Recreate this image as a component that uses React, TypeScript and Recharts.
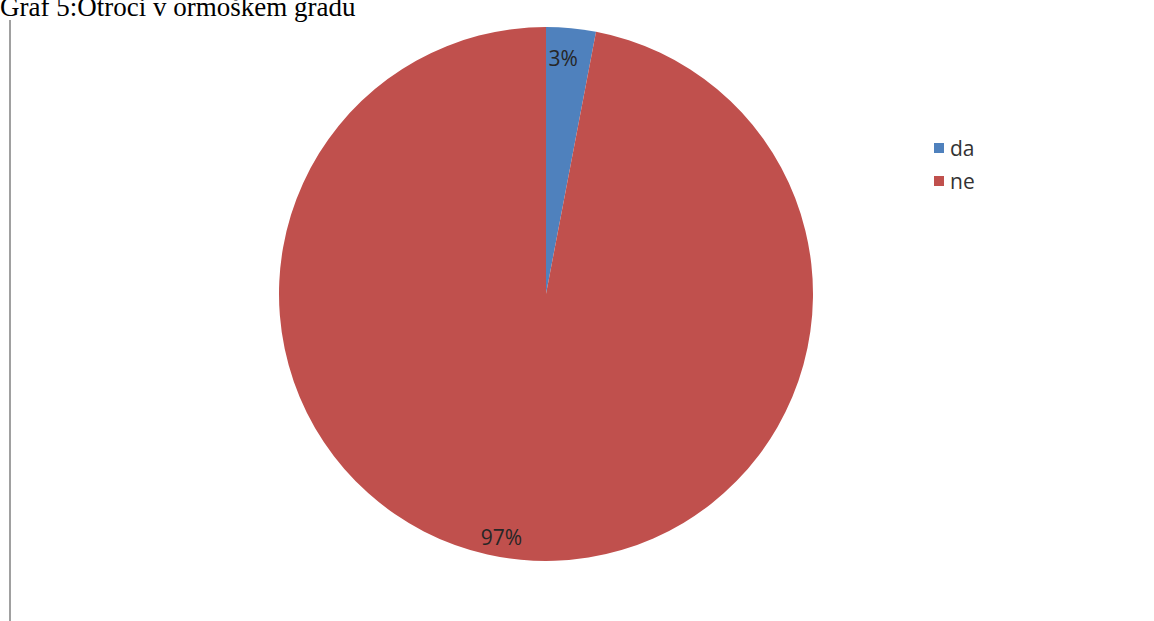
import React from 'react';
import { PieChart, Pie, Cell, Legend } from 'recharts';

const categories = ['da', 'ne'];
const values = [3, 97];
const colors = ['#4F81BD', '#C0504D'];
const titleText = 'Graf 5:Otroci v ormoškem gradu';

const data = categories.map((name, i) => ({ name, value: values[i] }));

const RAD = Math.PI / 180;
const labelTweak: Record<string, { r: number; da: number }> = {
  da: { r: 0.885, da: 1.2 },
  ne: { r: 0.925, da: -5.0 },
};

const renderLabel = (props: any) => {
  const { cx, cy, outerRadius, midAngle, percent, name } = props;
  const t = labelTweak[name] || { r: 0.85, da: 0 };
  const ang = (midAngle + t.da) * RAD;
  const x = cx + outerRadius * t.r * Math.cos(ang);
  const y = cy - outerRadius * t.r * Math.sin(ang);
  return (
    <text
      x={x}
      y={y}
      textAnchor="middle"
      dominantBaseline="central"
      fill="#262626"
      fontFamily="'Open Sans', sans-serif"
      fontSize={21}
    >
      {`${Math.round(percent * 100)}%`}
    </text>
  );
};

const renderLegend = (props: any) => {
  const { payload } = props;
  return (
    <div>
      {payload.map((entry: any) => (
        <div
          key={entry.value}
          style={{ display: 'flex', alignItems: 'center', height: 33 }}
        >
          <span
            style={{
              display: 'inline-block',
              width: 10,
              height: 10,
              background: entry.color,
              marginRight: 6,
            }}
          />
          <span
            style={{
              fontFamily: "'Open Sans', sans-serif",
              fontSize: 21,
              color: '#333',
            }}
          >
            {entry.value}
          </span>
        </div>
      ))}
    </div>
  );
};

export default function App() {
  return (
    <div
      style={{
        position: 'absolute',
        left: 0,
        top: 0,
        width: 1154,
        height: 621,
        background: '#fff',
        overflow: 'hidden',
      }}
    >
      <div
        style={{
          position: 'absolute',
          left: 0,
          top: -6,
          fontFamily: "'Liberation Serif', 'Times New Roman', serif",
          fontSize: 27,
          lineHeight: '27px',
          color: '#000',
          whiteSpace: 'nowrap',
        }}
      >
        {titleText}
      </div>
      <div
        style={{
          position: 'absolute',
          left: 9,
          top: 20,
          width: 2,
          height: 601,
          background: '#a0a0a0',
        }}
      />
      <div style={{ position: 'absolute', left: 0, top: 0 }}>
        <PieChart width={1154} height={621}>
          <Pie
            data={data}
            dataKey="value"
            nameKey="name"
            cx={541}
            cy={289}
            outerRadius={267}
            startAngle={90}
            endAngle={-270}
            stroke="none"
            label={renderLabel}
            labelLine={false}
            isAnimationActive={false}
          >
            {data.map((d, i) => (
              <Cell key={d.name} fill={colors[i]} />
            ))}
          </Pie>
          <Legend
            layout="vertical"
            content={renderLegend}
            wrapperStyle={{ position: 'absolute', left: 934, top: 131, width: 80 }}
          />
        </PieChart>
      </div>
    </div>
  );
}
